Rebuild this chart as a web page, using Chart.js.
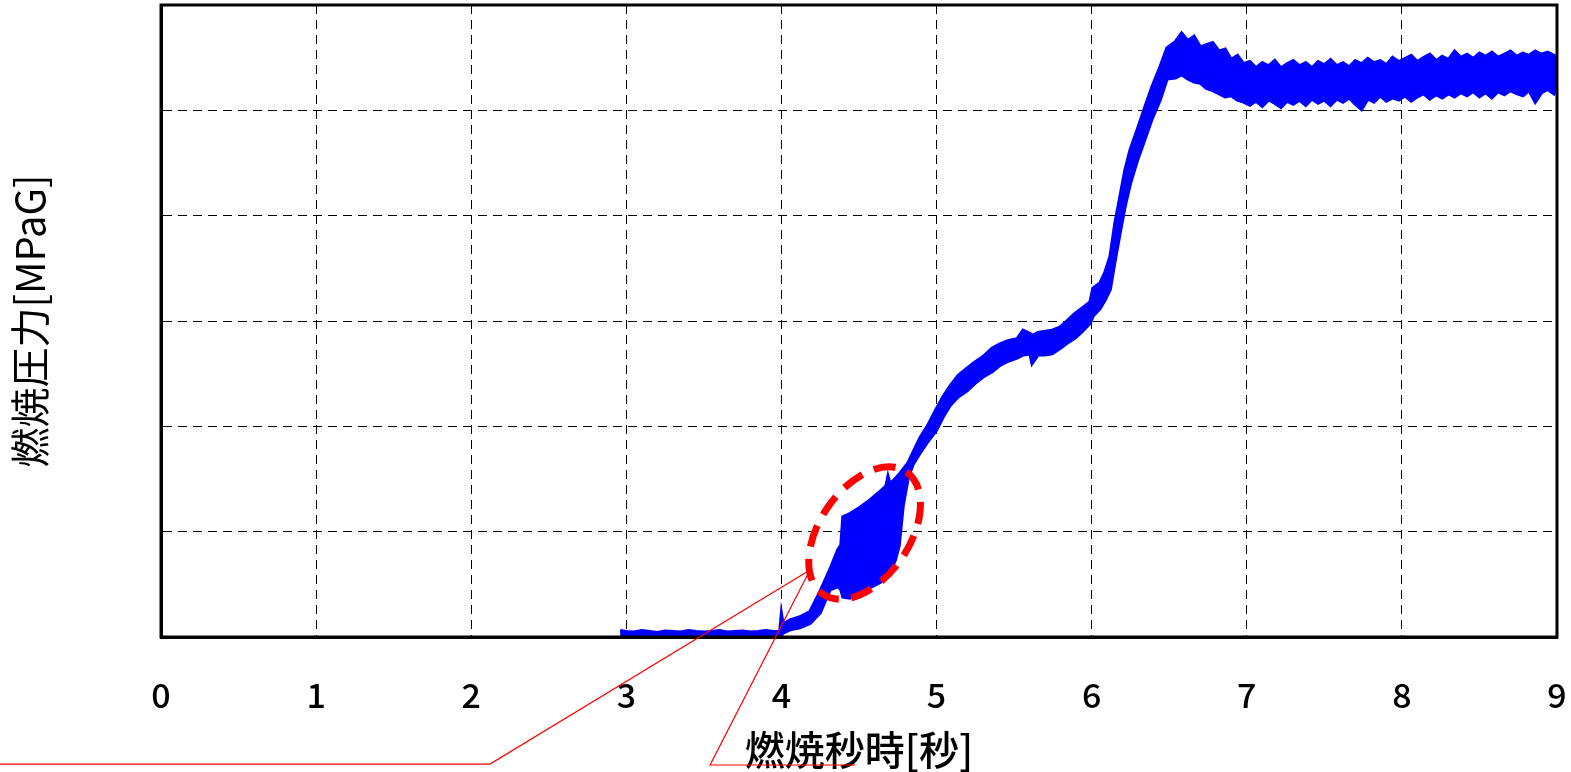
<!DOCTYPE html>
<html>
<head>
<meta charset="utf-8">
<script src="https://cdn.jsdelivr.net/npm/chart.js@4.4.1/dist/chart.umd.min.js"></script>
<style>
  html, body { margin: 0; padding: 0; background: #fff; overflow: hidden; }
  #wrap { width: 1571px; height: 772px; position: relative; }
  canvas { display: block; }
</style>
</head>
<body>
<div id="wrap"><canvas id="c"></canvas></div>
<script>
// ---- data ----
const xTickLabels = ['0','1','2','3','4','5','6','7','8','9'];
const xTitle = '燃焼秒時[秒]';
const yTitle = '燃焼圧力[MPaG]';

const times = [
  2.96,3.0,3.05,3.1,3.15,3.2,3.25,3.3,3.35,3.4,3.45,3.5,3.55,3.6,3.65,3.7,3.75,3.8,3.85,3.9,3.95,3.99,
  4.0,4.01,4.056,4.119,4.184,4.249,4.313,4.365,4.384,4.397,4.442,4.507,4.571,4.636,4.674,4.687,4.70,4.733,4.758,4.784,4.816,4.848,4.894,4.945,4.997,
  5.042,5.087,5.139,5.197,5.248,5.30,5.358,5.409,5.461,5.519,5.558,5.603,5.616,5.654,5.70,5.745,5.796,5.841,5.893,5.938,5.99,
  6.009,6.054,6.086,6.119,6.151,6.183,6.215,6.248,6.293,6.344,6.389,6.441,6.486,
  6.54,6.58,6.62,6.66,6.70,6.74,6.78,6.82,6.86,6.90,6.94,6.98,
  7.02,7.06,7.10,7.14,7.18,7.22,7.26,7.30,7.34,7.38,7.42,7.46,7.50,7.54,7.58,7.62,7.66,7.70,7.74,7.78,7.82,7.86,7.90,7.94,7.98,
  8.02,8.06,8.10,8.14,8.18,8.22,8.26,8.30,8.34,8.38,8.42,8.46,8.50,8.54,8.58,8.62,8.66,8.70,8.74,8.78,8.82,8.86,8.90,8.94,8.98,9.0
];
const pressureUpper = [
  0.06,0.05,0.045,0.06,0.05,0.04,0.055,0.05,0.045,0.06,0.05,0.045,0.05,0.06,0.045,0.05,0.055,0.045,0.05,0.06,0.05,0.05,
  0.21,0.12,0.16,0.19,0.24,0.43,0.64,0.83,0.87,1.14,1.17,1.23,1.30,1.38,1.43,1.52,1.45,1.50,1.54,1.59,1.65,1.75,1.89,2.01,2.16,
  2.28,2.38,2.48,2.55,2.61,2.66,2.74,2.78,2.81,2.83,2.91,2.88,2.86,2.89,2.90,2.91,2.94,3.00,3.07,3.12,3.18,
  3.31,3.36,3.46,3.61,3.93,4.18,4.43,4.62,4.81,5.03,5.22,5.41,5.59,
  5.65,5.73,5.66,5.70,5.60,5.62,5.64,5.56,5.58,5.48,5.52,5.44,
  5.46,5.40,5.45,5.42,5.47,5.40,5.44,5.47,5.42,5.45,5.40,5.46,5.43,5.48,5.42,5.45,5.41,5.47,5.44,5.49,5.45,5.47,5.43,5.50,5.46,
  5.49,5.52,5.46,5.50,5.53,5.47,5.51,5.48,5.56,5.50,5.53,5.49,5.54,5.51,5.55,5.50,5.53,5.56,5.51,5.54,5.52,5.56,5.53,5.55,5.52,5.50
];
const pressureLower = [
  0,0,0,0,0,0,0,0,0,0,0,0,0,0,0,0,0,0,0,0,0,0,
  0.02,0.04,0.07,0.09,0.13,0.23,0.45,0.48,0.45,0.38,0.37,0.42,0.47,0.52,0.56,0.59,0.62,0.73,0.87,1.25,1.51,1.64,1.75,1.86,1.96,
  2.09,2.20,2.28,2.34,2.41,2.47,2.52,2.58,2.62,2.65,2.68,2.69,2.60,2.68,2.68,2.69,2.74,2.79,2.84,2.90,2.98,
  3.05,3.12,3.20,3.30,3.58,3.84,4.09,4.30,4.52,4.73,4.92,5.10,5.30,
  5.31,5.34,5.30,5.27,5.26,5.21,5.19,5.16,5.13,5.14,5.10,5.08,
  5.05,5.09,5.04,5.10,5.07,5.03,5.09,5.06,5.10,5.05,5.11,5.07,5.10,5.05,5.11,5.08,5.12,5.06,5.01,5.11,5.08,5.14,5.09,5.12,5.10,
  5.14,5.09,5.13,5.16,5.11,5.15,5.12,5.16,5.13,5.17,5.14,5.18,5.13,5.17,5.12,5.18,5.15,5.19,5.16,5.14,5.19,5.08,5.17,5.20,5.16,5.24
];

// annotation geometry in data units (ellipse radii in pixels)
const ringCenter = { t: 4.536, v: 0.987 };
const ringRadii = { major: 74, minor: 45, angleDeg: -55.7 };
const leaderA = [ { t: 4.184, v: 0.636 }, { t: 2.121, v: -1.206 }, { t: -1.04, v: -1.206 } ];
const leaderB = [ { t: 4.184, v: 0.636 }, { t: 3.54, v: -1.215 }, { t: 4.475, v: -1.215 } ];

const upperPts = times.map((t, i) => ({ x: t, y: pressureUpper[i] }));
const lowerPts = times.map((t, i) => ({ x: t, y: pressureLower[i] }));

const FONT = "'Noto Sans CJK JP', 'Noto Sans', sans-serif";

const decor = {
  id: 'decor',
  afterDraw(chart) {
    const { ctx, chartArea: a, scales: { x, y } } = chart;
    ctx.save();
    ctx.strokeStyle = '#000';
    ctx.lineWidth = 3;
    ctx.setLineDash([]);
    ctx.strokeRect(a.left, a.top, a.right - a.left, a.bottom - a.top);
    ctx.strokeStyle = '#ff0000';
    ctx.lineWidth = 1.2;
    [leaderA, leaderB].forEach(seg => {
      ctx.beginPath();
      seg.forEach((p, i) => {
        const px = x.getPixelForValue(p.t), py = y.getPixelForValue(p.v);
        if (i === 0) ctx.moveTo(px, py); else ctx.lineTo(px, py);
      });
      ctx.stroke();
    });
    ctx.lineWidth = 7;
    ctx.setLineDash([22, 12.5]);
    ctx.beginPath();
    ctx.ellipse(x.getPixelForValue(ringCenter.t), y.getPixelForValue(ringCenter.v),
      ringRadii.major, ringRadii.minor, ringRadii.angleDeg * Math.PI / 180, 0, Math.PI * 2);
    ctx.stroke();
    ctx.restore();
  }
};

new Chart(document.getElementById('c'), {
  type: 'line',
  data: {
    datasets: [
      { data: upperPts, borderColor: '#0000ff', borderWidth: 3.5, pointRadius: 0, fill: false, tension: 0 },
      { data: lowerPts, borderColor: '#0000ff', borderWidth: 3.5, pointRadius: 0, fill: '-1', backgroundColor: '#0000ff', tension: 0 }
    ]
  },
  options: {
    responsive: true,
    maintainAspectRatio: false,
    animation: false,
    layout: { padding: { top: 5, right: 14, left: 0, bottom: 0 } },
    plugins: { legend: { display: false }, tooltip: { enabled: false } },
    scales: {
      x: {
        type: 'linear', min: 0, max: 9,
        afterFit: s => { s.height = 135; s.paddingLeft = 0; s.paddingRight = 0; },
        afterBuildTicks: s => { s.ticks = xTickLabels.map(v => ({ value: Number(v) })); },
        ticks: { stepSize: 1, color: '#000', padding: 38, font: { family: FONT, size: 34, weight: '500' },
                 callback: (v, i) => xTickLabels[i], maxRotation: 0 },
        grid: { color: '#000', lineWidth: 1, drawTicks: false },
        border: { display: true, color: '#000', width: 3, dash: [9, 6] },
        title: { display: true, text: xTitle, color: '#000', font: { family: FONT, size: 40, weight: '500' }, padding: { top: 0, bottom: -2 } }
      },
      y: {
        type: 'linear', min: 0, max: 6,
        afterFit: s => { s.width = 161; },
        ticks: { display: false, stepSize: 1 },
        grid: { color: '#000', lineWidth: 1, drawTicks: false },
        border: { display: true, color: '#000', width: 3, dash: [9, 6] },
        title: { display: true, text: yTitle, color: '#000', font: { family: FONT, size: 40 }, padding: { top: 6, bottom: 0 } }
      }
    }
  },
  plugins: [decor]
});
</script>
</body>
</html>
